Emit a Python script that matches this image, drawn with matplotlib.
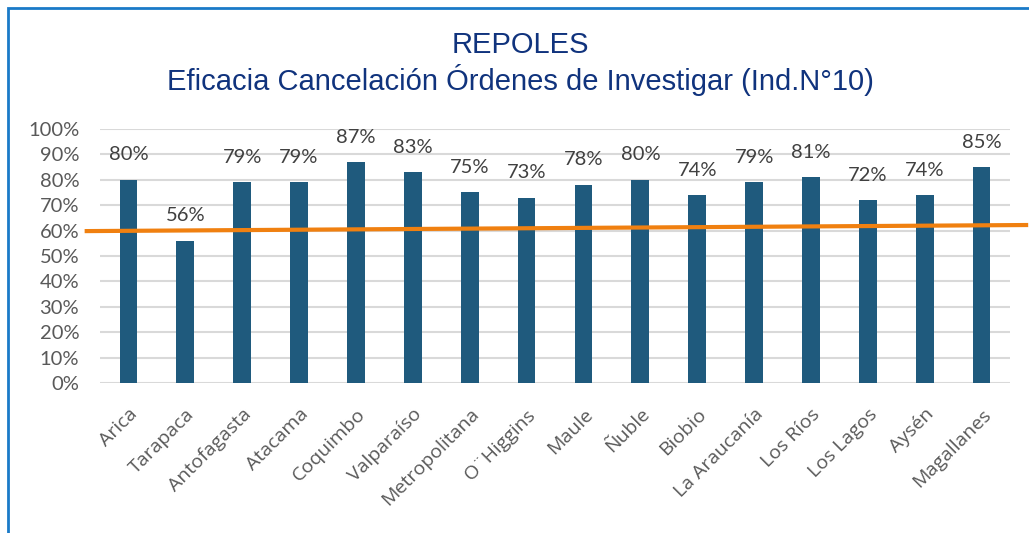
import matplotlib.pyplot as plt
from matplotlib.patches import Rectangle

regions = ["Arica", "Tarapaca", "Antofagasta", "Atacama", "Coquimbo", "Valparaíso",
           "Metropolitana", "O¨Higgins", "Maule", "Ñuble", "Biobio", "La Araucanía",
           "Los Ríos", "Los Lagos", "Aysén", "Magallanes"]
eficacia = [80, 56, 79, 79, 87, 83, 75, 73, 78, 80, 74, 79, 81, 72, 74, 85]
yticks = [0, 10, 20, 30, 40, 50, 60, 70, 80, 90, 100]

# orange reference line (drawn shape in the original, slightly tilted)
meta_x = [-0.77, 15.82]
meta_y = [59.8, 62.2]

BAR = "#1F5A7D"
TXT = "#595959"
TITLE = "#10337D"

fig = plt.figure(figsize=(10.29, 5.33), dpi=100)
ax = fig.add_axes([100 / 1029, 1 - 383 / 533, 910 / 1029, 254 / 533])

x = list(range(len(regions)))
ax.bar(x, eficacia, width=0.31, color=BAR, zorder=3)
for xi, v in zip(x, eficacia):
    ax.text(xi, v + 6.5, f"{v}%", ha="center", va="bottom", fontsize=14.5,
            color="#404040", family="Lato", zorder=4)

ax.plot(meta_x, meta_y, color="#F08010", lw=3, clip_on=False, zorder=5,
        solid_capstyle="butt")

ax.set_xlim(-0.5, len(regions) - 0.5)
ax.set_ylim(0, 100)
ax.set_yticks(yticks)
ax.set_yticklabels([f"{t}%" for t in yticks], fontsize=14.5, color=TXT, family="Lato")
ax.set_xticks(x)
ax.set_xticklabels(regions, rotation=45, ha="right", rotation_mode="anchor",
                   fontsize=14, color=TXT, family="Open Sans")
ax.tick_params(length=0, axis="y", pad=15)
ax.tick_params(length=0, axis="x", pad=16)
ax.grid(axis="y", color="#D9D9D9", lw=1.5, zorder=0)
for s in ax.spines.values():
    s.set_visible(False)

fig.text(0.506, 1 - 45 / 533, "REPOLES", ha="center", va="center",
         fontsize=21, color=TITLE, family="Liberation Sans")
fig.text(0.506, 1 - 80 / 533, "Eficacia Cancelación Órdenes de Investigar (Ind.N°10)",
         ha="center", va="center", fontsize=21, color=TITLE, family="Liberation Sans")

fig.patches.append(Rectangle((8 / 1029, -0.05), 1.1, 1 - 8 / 533 + 0.05,
                             transform=fig.transFigure, fill=False,
                             edgecolor="#1A7AC8", lw=2))

fig.savefig("out.png", dpi=100)
